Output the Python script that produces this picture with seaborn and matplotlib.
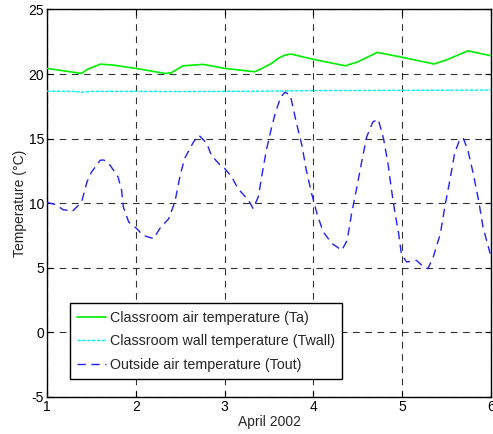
import matplotlib
matplotlib.use("Agg")
import matplotlib.pyplot as plt
import seaborn as sns
import pandas as pd

# ---- data ----
ta_day = [1.0, 1.39, 1.45, 1.6, 1.74, 2.0, 2.33, 2.4, 2.53, 2.76, 3.0, 3.34, 3.42, 3.53,
          3.6, 3.68, 3.75, 4.0, 4.36, 4.5, 4.72, 5.0, 5.36, 5.5, 5.74, 6.0]
ta_val = [20.44, 20.05, 20.35, 20.77, 20.7, 20.44, 20.05, 20.1, 20.64, 20.75, 20.44, 20.18,
          20.44, 20.83, 21.2, 21.47, 21.55, 21.14, 20.64, 20.95, 21.68, 21.3, 20.78, 21.1,
          21.8, 21.42]

tw_day = [1.0, 1.3, 1.4, 1.5, 2.0, 2.5, 3.0, 3.5, 4.0, 4.5, 5.0, 5.5, 6.0]
tw_val = [18.68, 18.66, 18.6, 18.66, 18.66, 18.65, 18.66, 18.68, 18.72, 18.73, 18.74, 18.75, 18.76]

to_day = [1.0, 1.1, 1.18, 1.29, 1.39, 1.45, 1.5, 1.6, 1.64, 1.71, 1.8, 1.84, 1.86, 1.92,
          2.01, 2.08, 2.2, 2.27, 2.37, 2.44, 2.5, 2.55, 2.65, 2.71, 2.8, 2.85, 2.95, 3.0,
          3.08, 3.15, 3.27, 3.32, 3.38, 3.42, 3.47, 3.53, 3.57, 3.63, 3.68, 3.74, 3.81,
          3.87, 3.92, 3.98, 4.04, 4.11, 4.21, 4.32, 4.38, 4.43, 4.49, 4.54, 4.6, 4.67,
          4.73, 4.79, 4.84, 4.88, 4.92, 4.96, 4.99, 5.05, 5.16, 5.24, 5.29, 5.35, 5.43,
          5.48, 5.54, 5.59, 5.65, 5.69, 5.74, 5.8, 5.86, 5.91, 5.99]
to_val = [10.05, 9.9, 9.5, 9.4, 10.1, 11.65, 12.4, 13.33, 13.35, 12.95, 12.04, 11.0, 9.7,
          8.55, 8.04, 7.52, 7.26, 8.04, 8.8, 10.1, 12.17, 13.47, 14.75, 15.27, 14.63, 13.72,
          12.95, 12.7, 12.04, 11.14, 10.23, 9.6, 10.5, 12.17, 14.1, 15.9, 16.95, 18.2,
          18.6, 18.37, 16.18, 14.5, 12.56, 10.75, 9.2, 7.78, 6.88, 6.36, 7.13, 9.2, 11.26,
          13.08, 15.14, 16.3, 16.5, 15.0, 13.08, 11.0, 9.2, 7.65, 6.1, 5.45, 5.58, 5.07,
          4.94, 5.84, 7.65, 9.71, 11.9, 13.85, 15.0, 15.0, 14.1, 12.3, 10.23, 8.16, 6.1]

labels = ["Classroom air temperature (Ta)",
          "Classroom wall temperature (Twall)",
          "Outside air temperature (Tout)"]
x_ticks = [1, 2, 3, 4, 5, 6]
y_ticks = [-5, 0, 5, 10, 15, 20, 25]

sns.set_theme(style="white")
plt.rcParams["font.family"] = ["Liberation Sans", "DejaVu Sans"]

fig = plt.figure(figsize=(4.93, 4.34), dpi=100)
ax = fig.add_axes([47 / 493, 1 - 397 / 434, 444 / 493, 387.5 / 434])

df_a = pd.DataFrame({"day": ta_day, "T": ta_val})
df_w = pd.DataFrame({"day": tw_day, "T": tw_val})
df_o = pd.DataFrame({"day": to_day, "T": to_val})

sns.lineplot(data=df_a, x="day", y="T", ax=ax, color="#00ee00", lw=1.2,
             label=labels[0], zorder=3)
sns.lineplot(data=df_w, x="day", y="T", ax=ax, color="#00f0f0", lw=1.0,
             label=labels[1], zorder=3, linestyle=(0, (2.5, 1)))
sns.lineplot(data=df_o, x="day", y="T", ax=ax, color="#2020ff", lw=1.0,
             label=labels[2], zorder=3, linestyle=(0, (6, 4)))

ax.set_xlim(1, 6)
ax.set_ylim(-5, 25)
ax.set_xticks(x_ticks)
ax.set_yticks(y_ticks)
ax.set_xticklabels([str(v) for v in x_ticks])
ax.set_yticklabels([str(v) for v in y_ticks])
ax.tick_params(direction="in", length=4, width=0.8, labelsize=10, colors="black",
               pad=2, bottom=True, left=True, top=True, right=True)
ax.grid(True, color="black", linestyle=(0, (6, 5)), linewidth=0.8, alpha=0.8)
for s in ax.spines.values():
    s.set_color("black")
    s.set_linewidth(1.0)
ax.set_xlabel("April 2002", fontsize=10, labelpad=1)
ax.set_ylabel("Temperature (°C)", fontsize=10, labelpad=1)

leg = ax.legend(loc="lower left", bbox_to_anchor=(0.052, 0.046), fontsize=10.3,
                frameon=True, fancybox=False, edgecolor="black", framealpha=1,
                handlelength=2.0, handletextpad=0.3, borderpad=0.5, labelspacing=0.68,
                borderaxespad=0)
leg.get_frame().set_linewidth(1.0)

fig.savefig("out.png", dpi=100)
